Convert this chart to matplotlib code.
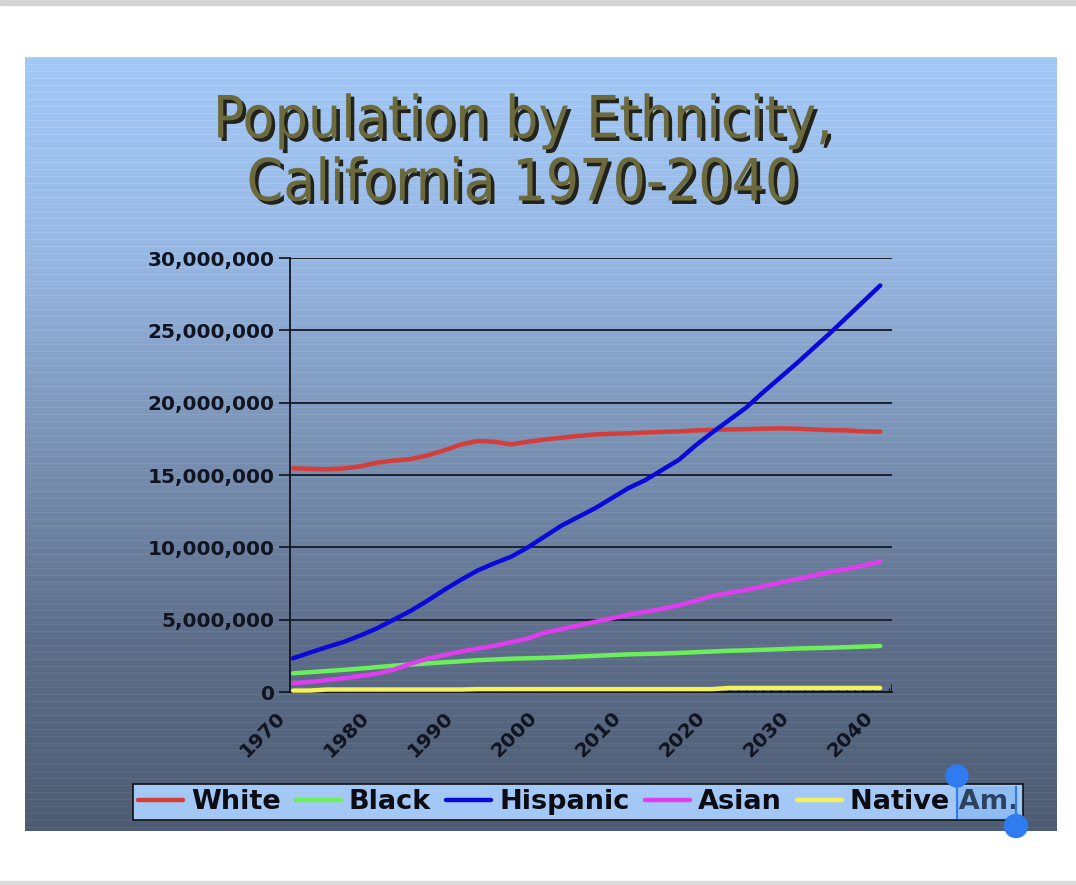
import matplotlib
matplotlib.use("Agg")
import matplotlib.pyplot as plt
import matplotlib.patheffects as pe
import matplotlib.transforms as mtransforms
from matplotlib.patches import Rectangle, Circle
from matplotlib.ticker import FuncFormatter, MultipleLocator
import numpy as np

# data, millions of people, every 2 years
years = list(range(1970, 2041, 2))
white = [15.46, 15.42, 15.40, 15.45, 15.60, 15.85, 16.00, 16.10, 16.35, 16.70,
         17.10, 17.35, 17.30, 17.12, 17.30, 17.45, 17.58, 17.70, 17.80, 17.85,
         17.88, 17.93, 17.98, 18.02, 18.08, 18.12, 18.15, 18.17, 18.20, 18.22,
         18.20, 18.15, 18.10, 18.08, 18.02, 17.99]
black = [1.29, 1.37, 1.45, 1.53, 1.62, 1.72, 1.82, 1.90, 1.98, 2.05,
         2.12, 2.20, 2.25, 2.30, 2.33, 2.36, 2.40, 2.45, 2.50, 2.55,
         2.60, 2.63, 2.66, 2.70, 2.75, 2.80, 2.85, 2.88, 2.92, 2.96,
         3.00, 3.03, 3.06, 3.10, 3.14, 3.18]
hispanic = [2.33, 2.72, 3.10, 3.45, 3.90, 4.40, 5.00, 5.60, 6.30, 7.05,
            7.75, 8.40, 8.90, 9.35, 10.00, 10.75, 11.50, 12.10, 12.70, 13.40,
            14.10, 14.65, 15.35, 16.05, 17.05, 17.95, 18.80, 19.65, 20.70, 21.70,
            22.70, 23.75, 24.80, 25.90, 27.00, 28.10]
asian = [0.60, 0.70, 0.82, 0.95, 1.10, 1.27, 1.55, 1.95, 2.30, 2.55,
         2.80, 3.00, 3.20, 3.45, 3.70, 4.10, 4.35, 4.60, 4.85, 5.10,
         5.35, 5.55, 5.75, 6.00, 6.30, 6.65, 6.85, 7.05, 7.30, 7.55,
         7.80, 8.05, 8.30, 8.50, 8.75, 9.00]
native = [0.10, 0.10, 0.17, 0.17, 0.17, 0.17, 0.17, 0.17, 0.17, 0.17,
          0.17, 0.20, 0.20, 0.20, 0.20, 0.20, 0.20, 0.20, 0.20, 0.20,
          0.20, 0.20, 0.20, 0.20, 0.20, 0.20, 0.28, 0.28, 0.28, 0.28,
          0.28, 0.28, 0.28, 0.28, 0.28, 0.28]

names = ["White", "Black", "Hispanic", "Asian", "Native Am."]
colors = ["#d63c38", "#6cf05a", "#0a0ad8", "#e03cf0", "#f4f25a"]

W, H = 1076, 885
fig = plt.figure(figsize=(W / 100, H / 100), dpi=100)
fig.patch.set_facecolor("white")

# slide background with gradient and faint stripes
bg = fig.add_axes([0, 0, 1, 1], zorder=-5)
bg.set_xlim(0, W)
bg.set_ylim(H, 0)
bg.axis("off")
top_y, bot_y = 57, 831
rows = bot_y - top_y
t = np.linspace(0, 1, rows)
stops = [0.0, 0.25, 0.5, 0.75, 1.0]
cols = np.array([[0xa3, 0xc8, 0xf6], [0x98, 0xb8, 0xe4], [0x7a, 0x92, 0xb4],
                 [0x5e, 0x6e, 0x8a], [0x4e, 0x5c, 0x73]]) / 255.0
grad = np.stack([np.interp(t, stops, cols[:, k]) for k in range(3)], axis=1)
stripe = np.where(np.arange(rows) % 7 == 0, 0.035, 0.0)
grad = np.clip(grad + stripe[:, None], 0, 1)
img = np.repeat(grad[:, None, :], 10, axis=1)
bg.imshow(img, extent=(25, 1057, bot_y, top_y), aspect="auto", interpolation="nearest")
bg.add_patch(Rectangle((0, 0), W, 5, color="#d4d4d4"))
bg.add_patch(Rectangle((0, 881), W, 3, color="#dcdcdc"))

# title
title_fx = [pe.SimplePatchShadow(offset=(2.5, -2.5), shadow_rgbFace="#1a1a10", alpha=0.95), pe.Normal()]
for txt, yy in [("Population by Ethnicity,", 121), ("California 1970-2040", 184)]:
    fig.text(523 / W, 1 - yy / H, txt, ha="center", va="center", fontsize=42,
             family=["Liberation Sans Narrow", "DejaVu Sans"], stretch="condensed",
             color="#6c6a3c", path_effects=title_fx)

# plot area
ax = fig.add_axes([290 / W, 1 - 692 / H, 602 / W, 434 / H])
ax.patch.set_alpha(0)
for yr, vals, nm, c in zip([years] * 5, [white, black, hispanic, asian, native], names, colors):
    ax.plot(yr, np.array(vals) * 1e6, color=c, lw=3.2, label=nm, zorder=5,
            solid_capstyle="round", clip_on=False)

ax.set_ylim(0, 30e6)
ax.set_xlim(1969.64, 2041.4)
ax.yaxis.set_major_locator(MultipleLocator(5e6))
ax.yaxis.set_major_formatter(FuncFormatter(lambda v, p: f"{int(v):,}"))
ax.set_xticks(range(1970, 2041, 10))
ax.xaxis.set_minor_locator(MultipleLocator(1))
ax.grid(axis="y", color="#1c2230", lw=1.4)
ax.set_axisbelow(True)
for s in ["top", "right"]:
    ax.spines[s].set_visible(False)
ax.spines["left"].set_color("#10141c")
ax.spines["bottom"].set_color("#10141c")
ax.spines["left"].set_linewidth(1.3)
ax.spines["bottom"].set_linewidth(1.3)
ax.axvline(2041.4, ymin=0, ymax=0.015, color="#10141c", lw=1.2)
ax.tick_params(axis="y", length=8, width=1.2, color="#10141c", labelsize=14.5,
               labelcolor="#101420", pad=3)
ax.tick_params(axis="x", which="major", length=0, labelsize=14.5, labelcolor="#101420", pad=10)
ax.tick_params(axis="x", which="minor", direction="in", length=3, width=0.8, color="#10141c")
for lab in ax.get_yticklabels():
    lab.set_fontweight("bold")
shift = mtransforms.ScaledTranslation(-17 / 100, -2 / 100, fig.dpi_scale_trans)
for lab in ax.get_xticklabels():
    lab.set_fontweight("bold")
    lab.set_rotation(45)
    lab.set_ha("right")
    lab.set_va("top")
    lab.set_rotation_mode("anchor")
    lab.set_transform(lab.get_transform() + shift)

# legend
leg = fig.legend(loc="center", bbox_to_anchor=(578 / W, 1 - 802 / H), ncol=5,
                 prop={"weight": "bold", "size": 19.5}, frameon=True, fancybox=False,
                 handlelength=1.67, columnspacing=0.55, handletextpad=0.3, borderpad=0.18,
                 borderaxespad=0)
leg.get_frame().set_facecolor("#a3c8f6")
leg.get_frame().set_edgecolor("#101010")
leg.get_frame().set_alpha(1)
leg.get_frame().set_linewidth(1.2)
for txt in leg.get_texts():
    txt.set_color("#0c0c14")

# text-selection handles from the screenshot
ov = fig.add_axes([0, 0, 1, 1], zorder=10)
ov.set_xlim(0, W)
ov.set_ylim(H, 0)
ov.axis("off")
ov.add_patch(Rectangle((957, 787), 59, 31, color="#6aa8f0", alpha=0.35))
ov.plot([957, 957], [776, 818], color="#2f7cf0", lw=1.5)
ov.plot([1016, 1016], [787, 826], color="#2f7cf0", lw=1.5)
ov.add_patch(Circle((957, 776), 11, color="#2f7cf0"))
ov.add_patch(Circle((1016, 826), 11.5, color="#2f7cf0"))

fig.savefig("out.png", dpi=100, facecolor="white")
